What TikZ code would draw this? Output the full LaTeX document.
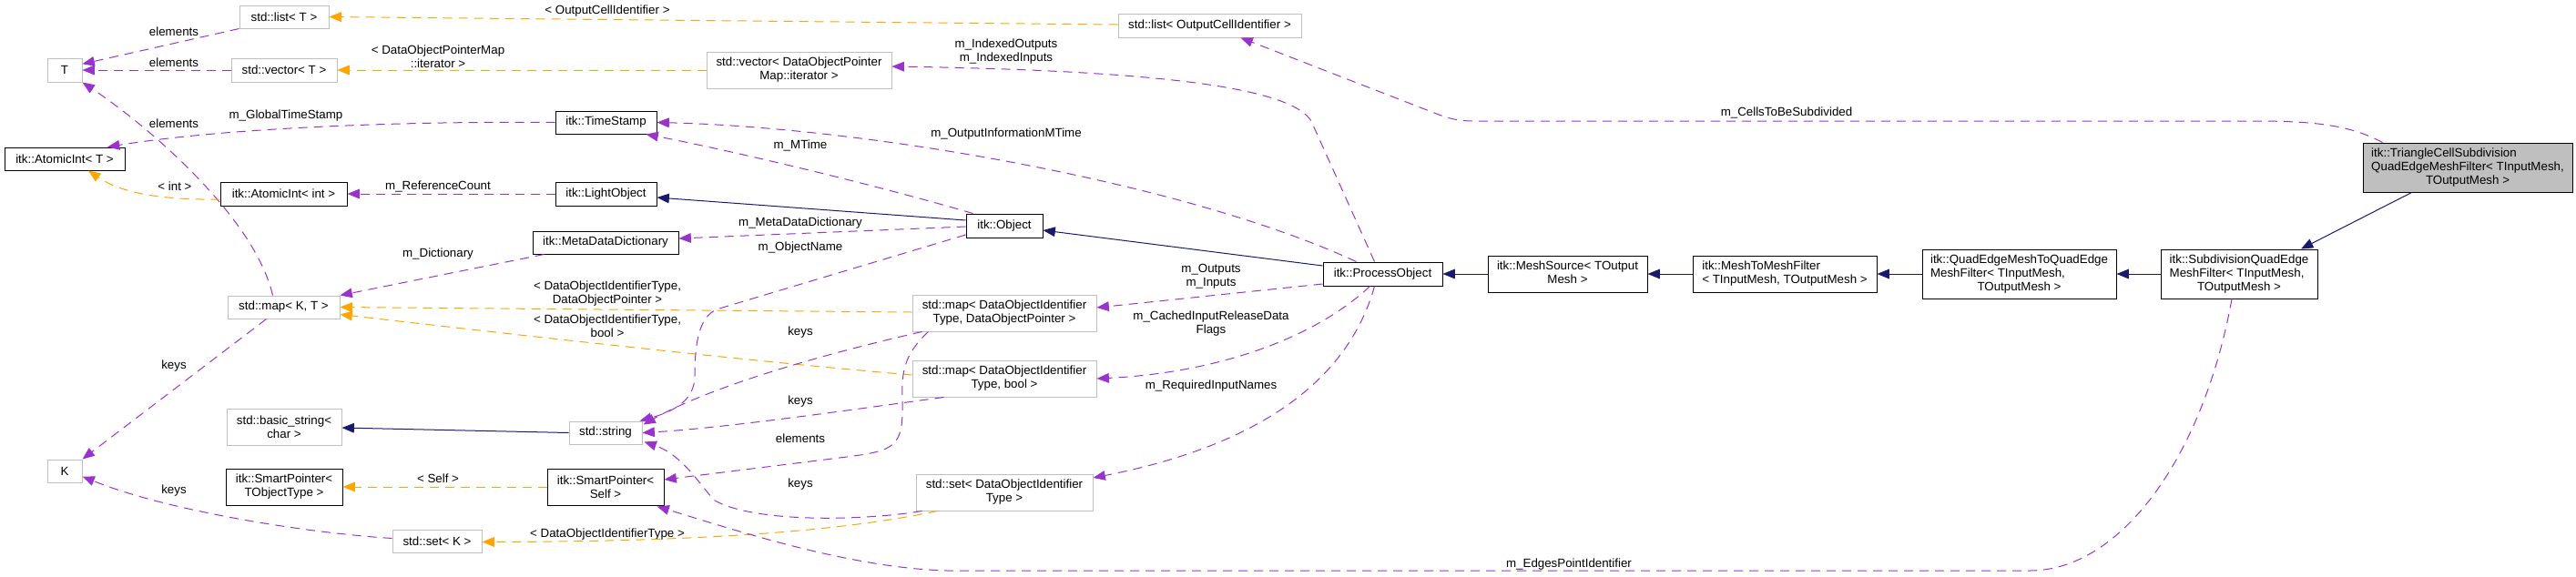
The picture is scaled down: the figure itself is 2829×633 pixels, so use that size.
\documentclass[tikz,border=0pt]{standalone}
\usepackage{fontspec}
\setmainfont{Liberation Sans}
\usetikzlibrary{arrows.meta,calc}
\definecolor{purp}{HTML}{9A32CD}
\definecolor{orng}{HTML}{FFA500}
\definecolor{navy}{HTML}{191970}
\definecolor{boxgray}{HTML}{BFBFBF}
\begin{document}
\begin{tikzpicture}[x=0.75pt,y=-0.75pt,
  font=\fontsize{10}{11.25}\selectfont,
  base/.style={inner sep=0pt, align=center, line width=0.75pt, fill=white},
  stdbox/.style={base, draw=boxgray},
  itkbox/.style={base, draw=black},
  sz/.style 2 args={minimum width=#1*0.75pt, minimum height=#2*0.75pt},
  lbl/.style={inner sep=0pt, align=center},
  tipped/.style={-{Triangle[length=10pt,width=8pt]}, line width=0.75pt},
  member/.style={tipped, draw=purp, fill=none, dash pattern=on 7.5pt off 5.25pt},
  tmpl/.style={tipped, draw=orng, dash pattern=on 7.5pt off 5.25pt},
  inh/.style={tipped, draw=navy},
]
\useasboundingbox (0,0) rectangle (2829,633);

% ---------- class boxes ----------
\node[stdbox, sz={98}{25}]  (listT)   at (312,18.5)   {std::list< T >};
\node[stdbox, sz={38}{26}]  (T)       at (71,77)      {T};
\node[stdbox, sz={116}{26}] (vecT)    at (312,77)     {std::vector< T >};
\node[itkbox, sz={132}{25}] (atomT)   at (71,174.5)   {itk::AtomicInt< T >};
\node[itkbox, sz={139}{26}] (atomInt) at (311.5,213)  {itk::AtomicInt< int >};
\node[stdbox, sz={123}{25}] (mapKT)   at (311.5,337.5){std::map< K, T >};
\node[stdbox, sz={126}{40}] (bstr)    at (312,469)    {std::basic\_string<\\char >};
\node[stdbox, sz={38}{25}]  (K)       at (71,517.5)   {K};
\node[itkbox, sz={128}{40}] (spT)     at (312,535)    {itk::SmartPointer<\\TObjectType >};
\node[stdbox, sz={98}{25}]  (setK)    at (480,594.5)  {std::set< K >};
\node[stdbox, sz={201}{26}] (listOCI) at (1328.5,28)  {std::list< OutputCellIdentifier >};
\node[stdbox, sz={203}{40}] (vecIt)   at (877.5,77)   {std::vector< DataObjectPointer\\Map::iterator >};
\node[itkbox, sz={111}{25}] (ts)      at (665.5,134.5){itk::TimeStamp};
\node[itkbox, sz={111}{26}] (lo)      at (665.5,213)  {itk::LightObject};
\node[itkbox, sz={160}{25}] (mdd)     at (665,266.5)  {itk::MetaDataDictionary};
\node[stdbox, sz={80}{25}]  (str)     at (665,475.5)  {std::string};
\node[itkbox, sz={128}{40}] (spS)     at (665,535)    {itk::SmartPointer<\\Self >};
\node[itkbox, sz={84}{26}]  (obj)     at (1103,248)   {itk::Object};
\node[stdbox, sz={202}{40}] (mapDOP)  at (1103,344)   {std::map< DataObjectIdentifier\\Type, DataObjectPointer >};
\node[stdbox, sz={202}{40}] (mapB)    at (1103,416)   {std::map< DataObjectIdentifier\\Type, bool >};
\node[stdbox, sz={194}{40}] (setD)    at (1103,541)   {std::set< DataObjectIdentifier\\Type >};
\node[itkbox, sz={131}{26}] (po)      at (1518.5,301) {itk::ProcessObject};
\node[itkbox, sz={175}{40}] (ms)      at (1721.5,301)
  {\begin{tabular}{@{}l@{}}itk::MeshSource< TOutput\\\multicolumn{1}{@{}c@{}}{Mesh >}\end{tabular}};
\node[itkbox, sz={202}{40}] (m2m)     at (1960,301)
  {\begin{tabular}{@{}l@{}}itk::MeshToMeshFilter\\\multicolumn{1}{@{}c@{}}{< TInputMesh, TOutputMesh >}\end{tabular}};
\node[itkbox, sz={213}{54}] (qe)      at (2217.5,301)
  {\begin{tabular}{@{}l@{}}itk::QuadEdgeMeshToQuadEdge\\MeshFilter< TInputMesh,\\\multicolumn{1}{@{}c@{}}{TOutputMesh >}\end{tabular}};
\node[itkbox, sz={172}{54}] (sub)     at (2459,301)
  {\begin{tabular}{@{}l@{}}itk::SubdivisionQuadEdge\\MeshFilter< TInputMesh,\\\multicolumn{1}{@{}c@{}}{TOutputMesh >}\end{tabular}};
\node[itkbox, fill=boxgray, sz={230}{54}] (tri) at (2710,184)
  {\begin{tabular}{@{}l@{}}itk::TriangleCellSubdivision\\QuadEdgeMeshFilter< TInputMesh,\\\multicolumn{1}{@{}c@{}}{TOutputMesh >}\end{tabular}};

% ---------- labels ----------
\node[lbl] (l1)  at (191,35)    {elements};
\node[lbl] (l2)  at (191,69)    {elements};
\node[lbl] (l3)  at (191,136)   {elements};
\node[lbl] (l4)  at (314,127)   {m\_GlobalTimeStamp};
\node[lbl] (l5)  at (192,205)   {< int >};
\node[lbl] (l6)  at (481,205)   {m\_ReferenceCount};
\node[lbl] (l7)  at (667,12)    {< OutputCellIdentifier >};
\node[lbl] (l8)  at (481,62)    {< DataObjectPointerMap\\::iterator >};
\node[lbl] (l9)  at (481,279)   {m\_Dictionary};
\node[lbl] (l10) at (667,323)   {< DataObjectIdentifierType,\\DataObjectPointer >};
\node[lbl] (l11) at (667,358.5) {< DataObjectIdentifierType,\\bool >};
\node[lbl] (l12) at (191,402)   {keys};
\node[lbl] (l13) at (191,539)   {keys};
\node[lbl] (l14) at (667,587)   {< DataObjectIdentifierType >};
\node[lbl] (l15) at (481,526)   {< Self >};
\node[lbl] (l16) at (879,160)   {m\_MTime};
\node[lbl] (l17) at (879,245)   {m\_MetaDataDictionary};
\node[lbl] (l18) at (879,272)   {m\_ObjectName};
\node[lbl] (l19) at (879,365)   {keys};
\node[lbl] (l20) at (879,441)   {keys};
\node[lbl] (l21) at (879,482)   {elements};
\node[lbl] (l22) at (879,532)   {keys};
\node[lbl] (l23) at (1105,147)  {m\_OutputInformationMTime};
\node[lbl] (l24) at (1105,56.5) {m\_IndexedOutputs\\m\_IndexedInputs};
\node[lbl] (l25) at (1330,303.5){m\_Outputs\\m\_Inputs};
\node[lbl] (l26) at (1330,355.5){m\_CachedInputReleaseData\\Flags};
\node[lbl] (l27) at (1330,424)  {m\_RequiredInputNames};
\node[lbl] (l28) at (1962,124)  {m\_CellsToBeSubdivided};
\node[lbl] (l29) at (1723,620)  {m\_EdgesPointIdentifier};

% ---------- connectors ----------
\draw[member] (listT.south west) -- (T.19);
\draw[member] (vecT.west) -- (T.east);
\draw[member] ($(mapKT.north)+(-12,0)$) .. controls (280,240) and (165,140) .. (T.south east);
\draw[member] (ts.west) .. controls (450,133) and (250,140) .. ($(atomT.north)+(47,0)$);
\draw[tmpl] ($(atomInt.west)+(0,6)$) .. controls (170,220) and (130,210) .. ($(atomT.south)+(26,0)$);
\draw[member] (lo.west) -- (atomInt.east);
\draw[tmpl] ($(listOCI.west)+(0,-1)$) -- (listT.east);
\draw[tmpl] (vecIt.west) -- (vecT.east);
\draw[member] ($(mdd.south west)+(13,0)$) -- (mapKT.north east);
\draw[tmpl] ($(mapDOP.west)+(0,-1)$) -- (mapKT.east);
\draw[tmpl] ($(mapB.west)+(0,-4)$) .. controls (800,395) and (500,360) .. ($(mapKT.east)+(0,8)$);
\draw[member] ($(mapKT.south)+(-19,0)$) -- (K.north east);
\draw[member] ($(setK.west)+(0,-3)$) .. controls (330,585) and (180,560) .. ($(K.east)+(0,6)$);
\draw[tmpl] ($(setD.south west)+(24,0)$) .. controls (950,578) and (820,595) .. ($(setK.east)+(0,1)$);
\draw[inh] (str.west) -- ($(bstr.east)+(0,1)$);
\draw[tmpl] (spS.west) -- (spT.east);
\draw[inh] ($(obj.west)+(0,-6)$) -- ($(lo.east)+(0,4)$);
\draw[member] ($(obj.north west)+(8,0)$) .. controls (950,200) and (800,165) .. ($(ts.south east)+(-12,0)$);
\draw[member] ($(obj.west)+(0,1)$) -- ($(mdd.east)+(0,-4.5)$);
\draw[member] ($(obj.west)+(0,10)$) -- (790,339) .. controls (770,345) and (763,370) .. (763,413)
  .. controls (763,440) and (740,452) .. ($(str.north east)+(-3,0)$);
\draw[member] ($(mapDOP.south west)+(11,0)$) .. controls (900,390) and (780,425) .. ($(str.east)+(1,-9)$);
\draw[member] ($(mapB.south west)+(35,0)$) .. controls (950,448) and (800,470) .. (str.east);
\draw[member] ($(mapDOP.south west)+(18,0)$) .. controls (992,390) and (990,410) .. (991,440)
  .. controls (992,490) and (985,495) .. (930,502) -- ($(spS.east)+(0,-8)$);
\draw[member] ($(setD.south west)+(7,0)$) .. controls (950,572) and (830,575) .. (785,550)
  .. controls (770,535) and (750,500) .. ($(str.south east)+(2,-3)$);
\draw[inh] ($(po.west)+(0,-9)$) -- ($(obj.east)+(0,5)$);
\draw[member] ($(po.north west)+(37,0)$) .. controls (1300,200) and (950,140) .. (ts.east);
\draw[member] ($(po.north west)+(57,0)$) -- (1440,133) .. controls (1420,100) and (1300,78) .. ($(vecIt.east)+(0,-4)$);
\draw[member] ($(po.west)+(0,11)$) -- ($(mapDOP.east)+(0,-6)$);
\draw[member] ($(po.south west)+(52,0)$) .. controls (1440,375) and (1330,410) .. (mapB.east);
\draw[member] ($(po.south west)+(57,0)$) .. controls (1480,420) and (1380,490) .. ($(setD.east)+(0,-16)$);
\draw[inh] (ms.west) -- (po.east);
\draw[inh] (m2m.west) -- (ms.east);
\draw[inh] (qe.west) -- (m2m.east);
\draw[inh] (sub.west) -- (qe.east);
\draw[inh] ($(tri.south west)+(54,0)$) -- ($(sub.north)+(68,0)$);
\draw[member] ($(tri.north west)+(22,0)$) .. controls (2580,137) and (2540,133) .. (2475,133) -- (1620,133)
  .. controls (1600,133) and (1590,130) .. (1575,124) -- ($(listOCI.south)+(34,0)$);
\draw[member] ($(sub.south)+(-8,0)$) .. controls (2420,500) and (2330,627) .. (2229,627) -- (1040,627)
  .. controls (930,624) and (800,580) .. ($(spS.south east)+(-8,1)$);
\end{tikzpicture}
\end{document}
